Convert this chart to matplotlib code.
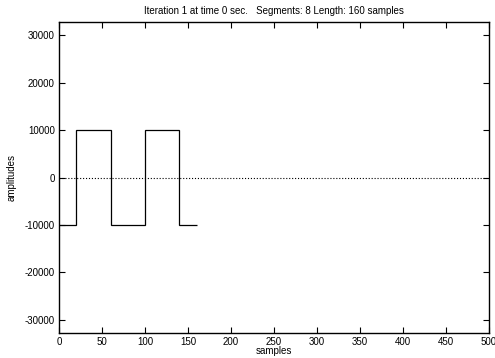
import numpy as np
import matplotlib
matplotlib.use('Agg')
import matplotlib.pyplot as plt

# waveform: 8 segments of 20 samples each
segment_values = [-10000, 10000, 10000, -10000, -10000, 10000, 10000, -10000]
segment_length = 20
x_ticks = [0, 50, 100, 150, 200, 250, 300, 350, 400, 450, 500]
y_ticks = [-30000, -20000, -10000, 0, 10000, 20000, 30000]
title = 'Iteration 1 at time 0 sec.   Segments: 8 Length: 160 samples'

plt.rcParams['font.family'] = ['Liberation Sans', 'DejaVu Sans']
plt.rcParams['axes.unicode_minus'] = False
fs = 7.0

fig = plt.figure(figsize=(4.95, 3.58), dpi=100)
ax = fig.add_axes([0.1192, 0.0698, 0.8687, 0.8687])

edges = np.arange(len(segment_values) + 1) * segment_length
ax.stairs(segment_values, edges, baseline=None, color='black', linewidth=0.9)
ax.axhline(0, color='black', linestyle=':', linewidth=0.8)

ax.set_xlim(0, 500)
ax.set_ylim(-32768, 32767)
ax.set_xticks(x_ticks)
ax.set_yticks(y_ticks)
ax.tick_params(direction='in', length=4, width=0.8, labelsize=fs,
               top=True, right=True, pad=3)
for s in ax.spines.values():
    s.set_linewidth(1.0)

ax.set_xlabel('samples', fontsize=fs, labelpad=-1)
ax.set_ylabel('amplitudes', fontsize=fs, labelpad=6)
ax.set_title(title, fontsize=fs, pad=6)

fig.savefig('out.png', dpi=100)
